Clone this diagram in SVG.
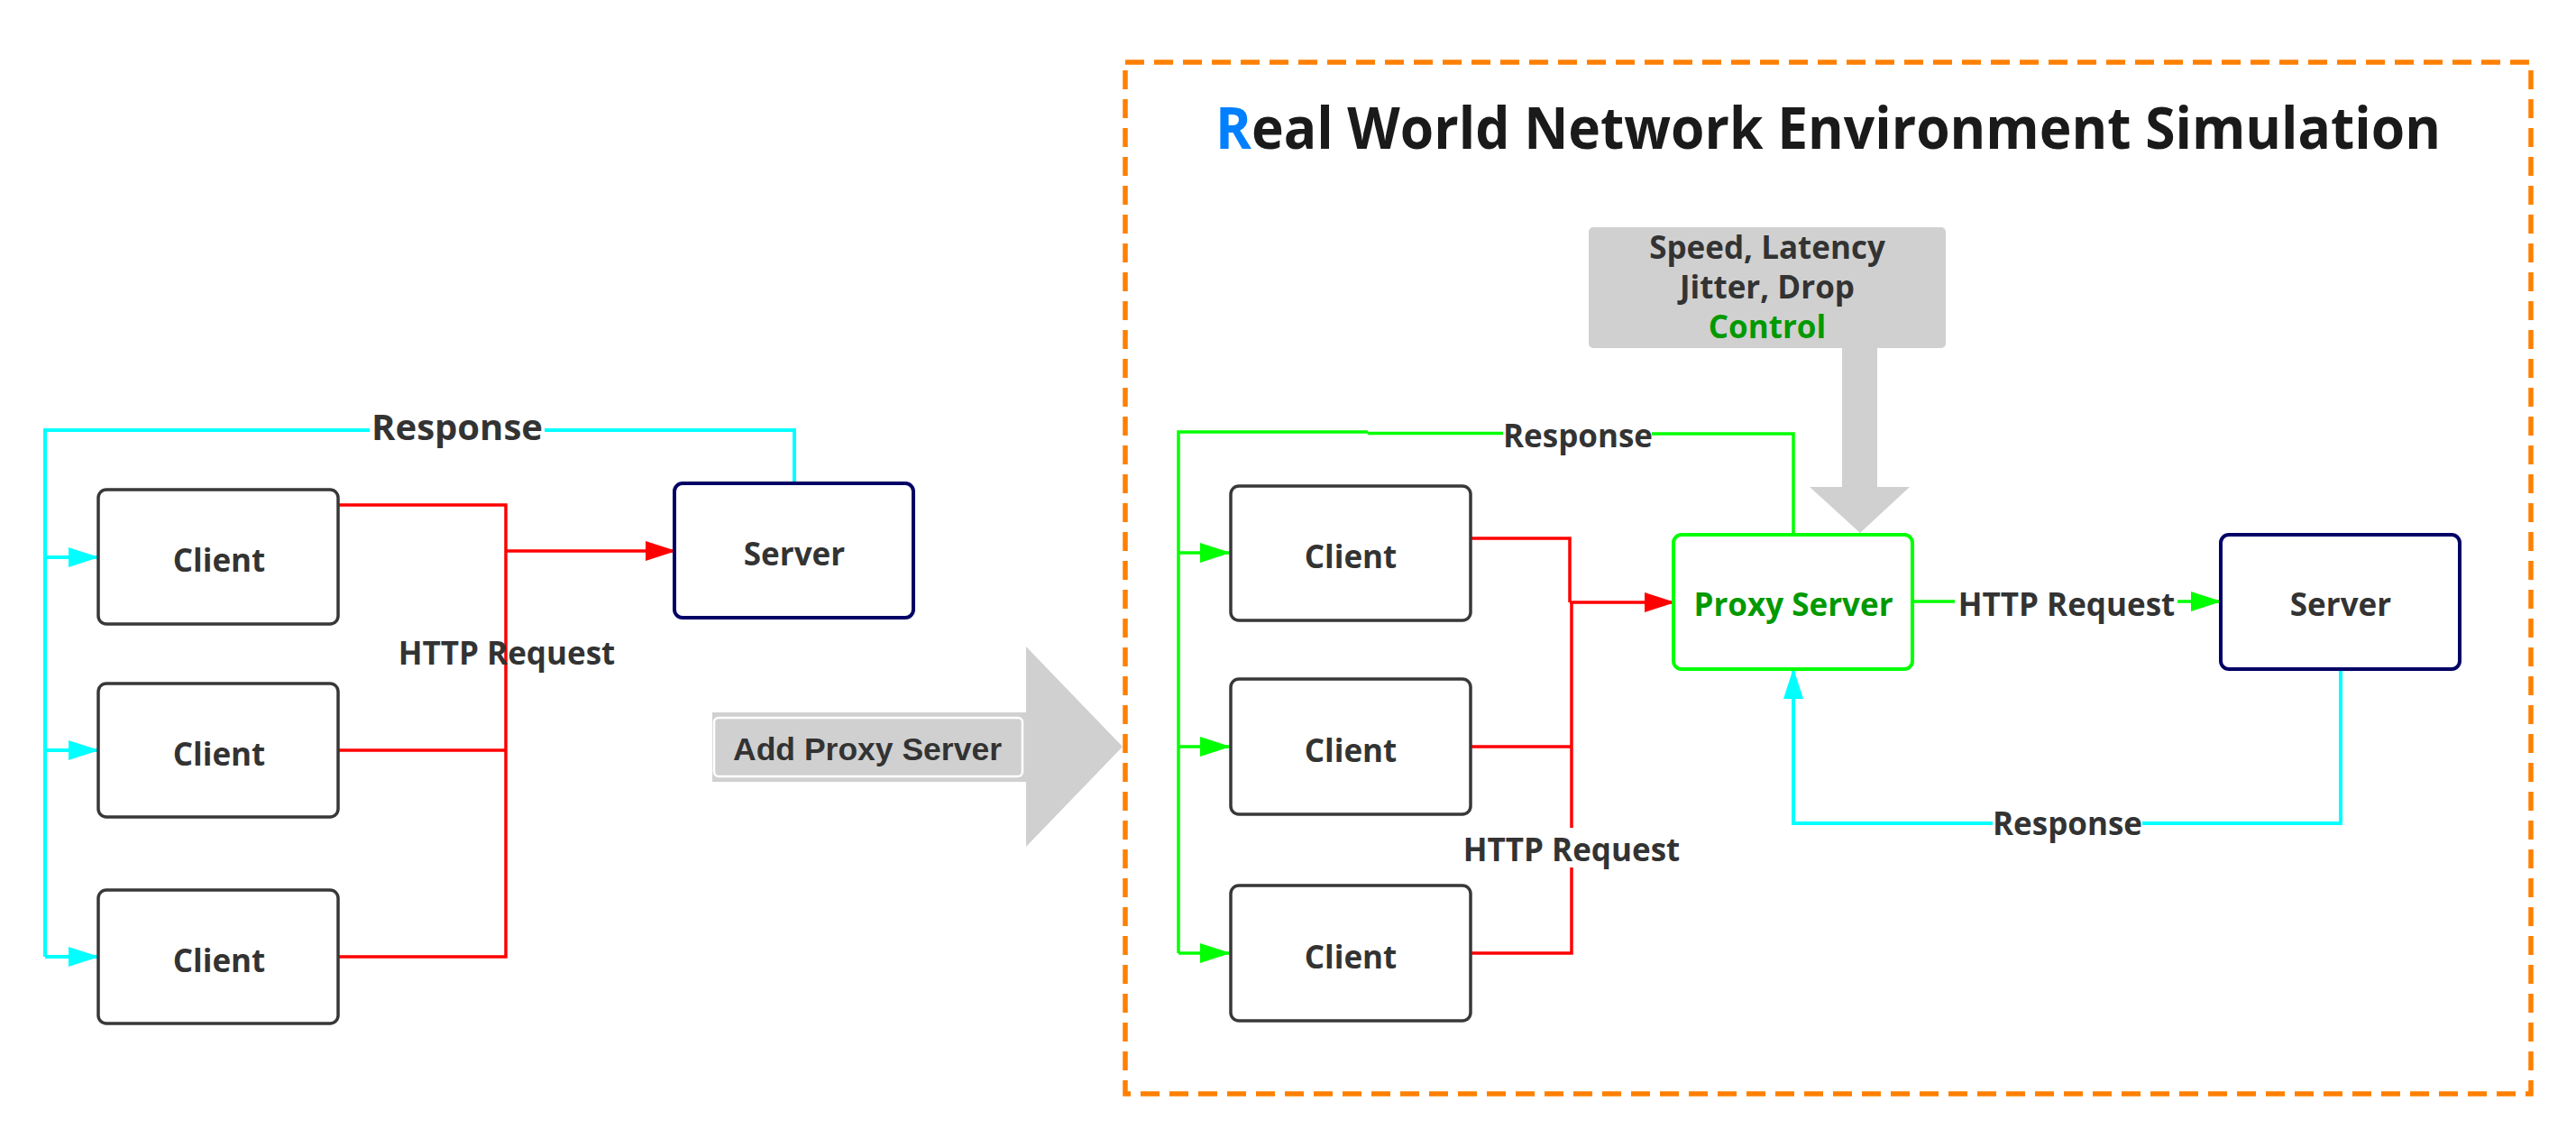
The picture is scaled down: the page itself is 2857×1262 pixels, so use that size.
<svg xmlns="http://www.w3.org/2000/svg" width="2857" height="1262" viewBox="0 0 2857 1262">
<defs>
<style>
.box{fill:#ffffff;stroke:#383838;stroke-width:3.5}
.srv{fill:#ffffff;stroke:#000066;stroke-width:4}
.prx{fill:#ffffff;stroke:#00ff00;stroke-width:4}
.t{font-family:"Open Sans","Noto Sans","DejaVu Sans",sans-serif;font-weight:bold;font-size:35px;fill:#333333;text-anchor:middle}
.cy{fill:none;stroke:#00ffff;stroke-width:4}
.rd{fill:none;stroke:#ff0000;stroke-width:3.5}
.gr{fill:none;stroke:#00ff00;stroke-width:3.5}
</style>
<marker id="aCy" markerUnits="userSpaceOnUse" markerWidth="34" markerHeight="22" refX="34" refY="11" orient="auto"><path d="M0,0 L34,11 L0,22 Z" fill="#00ffff"/></marker>
<marker id="aRd" markerUnits="userSpaceOnUse" markerWidth="34" markerHeight="22" refX="34" refY="11" orient="auto"><path d="M0,0 L34,11 L0,22 Z" fill="#ff0000"/></marker>
<marker id="aGr" markerUnits="userSpaceOnUse" markerWidth="34" markerHeight="22" refX="34" refY="11" orient="auto"><path d="M0,0 L34,11 L0,22 Z" fill="#00ff00"/></marker>
</defs>
<rect x="0" y="0" width="2857" height="1262" fill="#ffffff"/>

<g id="frame">
<rect x="1248" y="69" width="1559" height="1144" fill="none" stroke="#ff8000" stroke-width="5.5" stroke-dasharray="21 11"/>
</g>

<g id="title">
<text x="1348" y="165" font-family="'Open Sans','Noto Sans',sans-serif" font-weight="bold" font-size="64" fill="#1a1a1a" textLength="1359" lengthAdjust="spacingAndGlyphs"><tspan fill="#0080ff">R</tspan>eal World Network Environment Simulation</text>
</g>

<g id="connectors">
<!-- left side -->
<path class="cy" d="M881,536 V477 H604"/>
<path class="cy" d="M410,477 H50 V1061"/>
<path class="cy" d="M50,618 H110" marker-end="url(#aCy)"/>
<path class="cy" d="M50,832 H110" marker-end="url(#aCy)"/>
<path class="cy" d="M50,1061 H110" marker-end="url(#aCy)"/>
<path class="rd" d="M375,560 H561 V1061 H375"/>
<path class="rd" d="M375,832 H561"/>
<path class="rd" stroke-width="4" d="M561,611 H750" marker-end="url(#aRd)"/>
<!-- right side -->
<path class="gr" stroke-width="5" d="M1307,1057 V479 H1517"/>
<path class="gr" d="M1517,480.5 H1667"/>
<path class="gr" d="M1832,481 H1989 V593"/>
<path class="gr" stroke-width="4" d="M1307,613 H1365" marker-end="url(#aGr)"/>
<path class="gr" stroke-width="4" d="M1307,828 H1365" marker-end="url(#aGr)"/>
<path class="gr" stroke-width="4" d="M1307,1057 H1365" marker-end="url(#aGr)"/>
<path class="rd" d="M1626,597 H1741 V668"/>
<path class="rd" stroke-width="4" d="M1741,668 H1858" marker-end="url(#aRd)"/>
<path class="rd" d="M1743,668 V918"/>
<path class="rd" d="M1743,962 V1057 H1631"/>
<path class="rd" d="M1631,828 H1743"/>
<path class="gr" stroke-width="4" d="M2121,667 H2168"/>
<path class="gr" stroke-width="4" d="M2415,667 H2464" marker-end="url(#aGr)"/>
<path class="cy" d="M2596,742 V913 H2376"/>
<path class="cy" d="M2210,913 H1989 V741" marker-end="url(#aCy)"/>
<!-- connector labels -->
<text class="t" x="507" y="488" style="font-size:40px">Response</text>
<text class="t" x="562" y="737">HTTP Request</text>
<text class="t" x="1750" y="496">Response</text>
<text class="t" x="1743" y="955">HTTP Request</text>
<text class="t" x="2292" y="683">HTTP Request</text>
<text class="t" x="2293" y="926">Response</text>
</g>

<g id="left-client-1"><rect class="box" x="109" y="543" width="266" height="149" rx="9"/><text class="t" x="243" y="634">Client</text></g>
<g id="left-client-2"><rect class="box" x="109" y="758" width="266" height="148" rx="9"/><text class="t" x="243" y="849">Client</text></g>
<g id="left-client-3"><rect class="box" x="109" y="987" width="266" height="148" rx="9"/><text class="t" x="243" y="1078">Client</text></g>
<g id="left-server"><rect class="srv" x="748" y="536" width="265" height="149" rx="9"/><text class="t" x="881" y="627">Server</text></g>

<g id="add-proxy">
<path d="M790,790 H1138 V717 L1245,828 L1138,939 V867 H790 Z" fill="#d0d0d0"/>
<rect x="792" y="796" width="342" height="65" rx="5" fill="#d0d0d0" stroke="#ffffff" stroke-width="2.5"/>
<text x="962" y="843" font-family="'Liberation Sans',Arial,sans-serif" font-weight="bold" font-size="35.5" fill="#333333" text-anchor="middle">Add Proxy Server</text>
</g>

<g id="control">
<path d="M2043,384 V540 H2007 L2063,591 L2118,540 H2082 V384 Z" fill="#d0d0d0"/>
<rect x="1762" y="252" width="396" height="134" rx="5" fill="#d0d0d0"/>
<text class="t" x="1960" y="287">Speed, Latency</text>
<text class="t" x="1960" y="331">Jitter, Drop</text>
<text class="t" x="1960" y="375" style="fill:#009900">Control</text>
</g>

<g id="right-client-1"><rect class="box" x="1365" y="539" width="266" height="149" rx="9"/><text class="t" x="1498" y="630">Client</text></g>
<g id="right-client-2"><rect class="box" x="1365" y="753" width="266" height="150" rx="9"/><text class="t" x="1498" y="845">Client</text></g>
<g id="right-client-3"><rect class="box" x="1365" y="982" width="266" height="150" rx="9"/><text class="t" x="1498" y="1074">Client</text></g>
<g id="proxy-server"><rect class="prx" x="1856" y="593" width="265" height="149" rx="9"/><text class="t" x="1989" y="683" style="fill:#009900">Proxy Server</text></g>
<g id="right-server"><rect class="srv" x="2463" y="593" width="265" height="149" rx="9"/><text class="t" x="2596" y="683">Server</text></g>
</svg>
